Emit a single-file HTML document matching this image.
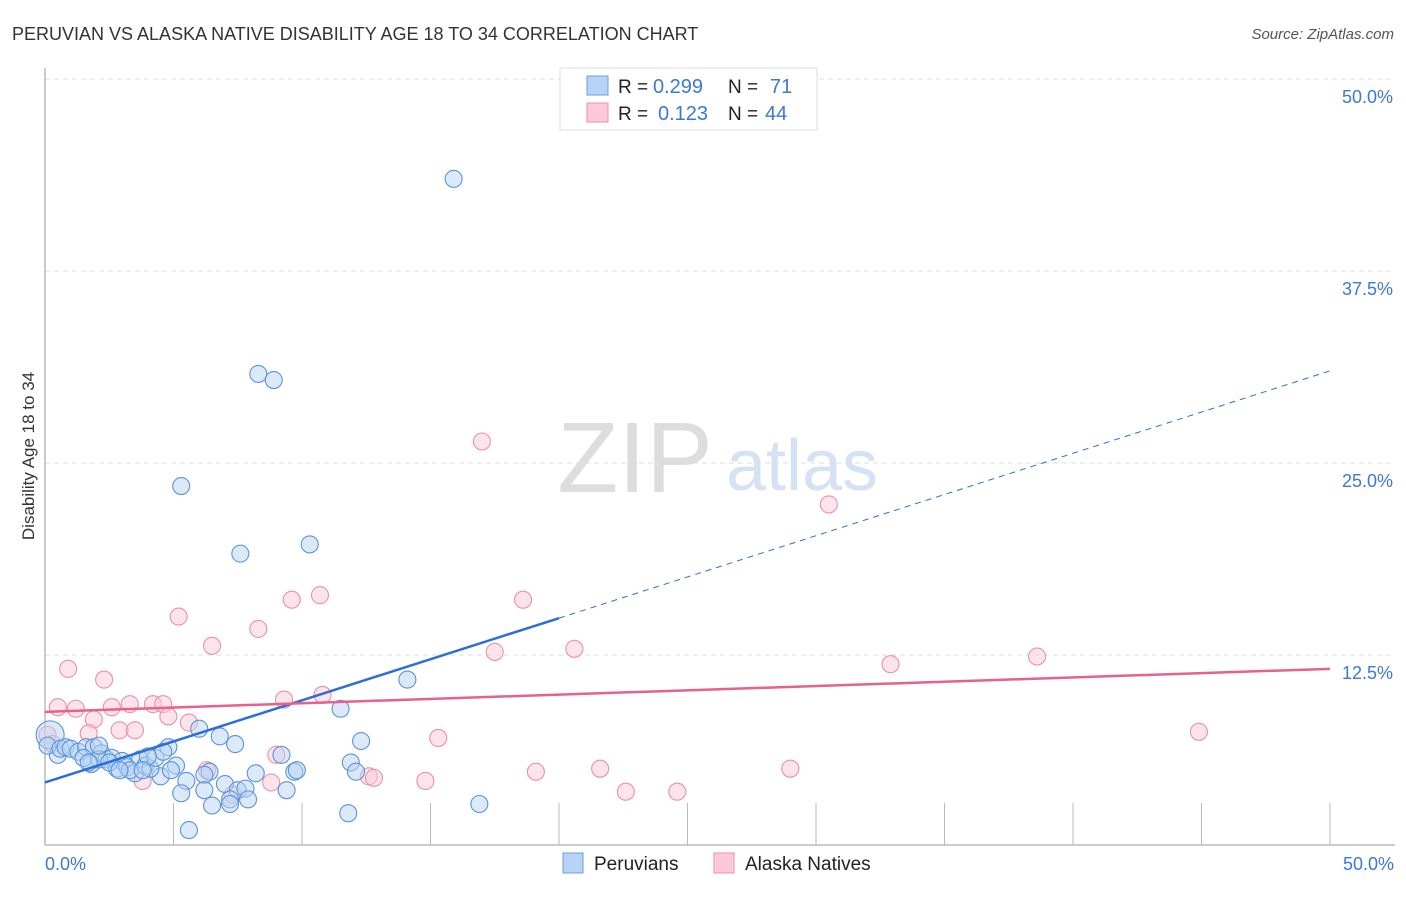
<!DOCTYPE html>
<html><head><meta charset="utf-8"><style>
body{margin:0;background:#fff;font-family:"Liberation Sans",sans-serif;}
svg text{font-family:"Liberation Sans",sans-serif;}
</style></head><body>
<svg id="chart" width="1406" height="892">
<text x="12" y="40" font-size="18" fill="#333">PERUVIAN VS ALASKA NATIVE DISABILITY AGE 18 TO 34 CORRELATION CHART</text>
<text x="1394" y="39" font-size="15" fill="#555" font-style="italic" text-anchor="end">Source: ZipAtlas.com</text>
<text x="34" y="456" font-size="17" fill="#333" text-anchor="middle" transform="rotate(-90 34 456)">Disability Age 18 to 34</text>
<text x="635" y="492" font-size="100" fill="#ddd" font-family="Liberation Serif" text-anchor="middle">ZIP</text>
<text x="802" y="490" font-size="72" fill="#d4e2f4" text-anchor="middle">atlas</text>
<g id="grid"></g><g id="axes"></g><g id="pts"></g><g id="trend"></g>
<g>
<rect x="560" y="68" width="257" height="62" fill="#fff" stroke="#ddd"/>
<rect x="587" y="76" width="21" height="19" fill="#b8d4f4" stroke="#6a9fe0"/>
<rect x="587" y="103" width="21" height="19" fill="#fbc9d7" stroke="#ec8fab"/>
<text x="618" y="93" font-size="19" fill="#222">R =</text>
<text x="653" y="93" font-size="20" fill="#3b78d8">0.299</text>
<text x="728" y="93" font-size="19" fill="#222">N =</text>
<text x="770" y="93" font-size="20" fill="#3b78d8">71</text>
<text x="618" y="120" font-size="19" fill="#222">R =</text>
<text x="658" y="120" font-size="20" fill="#3b78d8">0.123</text>
<text x="728" y="120" font-size="19" fill="#222">N =</text>
<text x="765" y="120" font-size="20" fill="#3b78d8">44</text>
</g>
<g>
<rect x="563" y="853" width="20" height="20" fill="#b8d4f4" stroke="#6a9fe0"/>
<text x="594" y="870" font-size="19" fill="#222">Peruvians</text>
<rect x="714" y="853" width="20" height="20" fill="#fbc9d7" stroke="#ec8fab"/>
<text x="745" y="870" font-size="19" fill="#222">Alaska Natives</text>
</g>
</svg>
<script>
const xTicks=["0.0%","50.0%"];
const yTicks=[12.5,25,37.5,50];
const yTickLabels=["12.5%","25.0%","37.5%","50.0%"];
const peruX=[15.9,8.3,8.9,5.3,7.6,10.3,14.1,11.5,6.0,7.4,6.8,12.3,9.2,4.8,9.7,11.9,12.1,8.2,6.4,5.1,6.2,5.5,4.5,7.0,7.5,6.2,5.3,7.8,7.2,7.9,9.4,6.5,7.2,11.8,16.9,5.6,0.2,0.5,0.1,0.6,0.8,1.0,1.3,1.6,1.8,1.9,2.2,2.4,2.6,2.8,3.0,3.2,3.5,3.7,3.9,4.1,4.3,4.6,3.3,1.5,2.1,2.5,2.1,9.8,1.7,4.0,4.9,2.9,3.8];
const peruY=[43.5,30.8,30.4,23.5,19.1,19.7,10.9,9.0,7.7,6.7,7.2,6.9,6.0,6.5,4.9,5.5,4.9,4.8,4.9,5.3,4.7,4.3,4.6,4.1,3.7,3.7,3.5,3.8,3.1,3.1,3.7,2.7,2.8,2.2,2.8,1.1,7.3,6.0,6.6,6.4,6.5,6.4,6.2,6.5,5.4,6.5,6.1,5.7,5.8,5.1,5.6,5.2,4.8,5.7,5.3,5.1,5.8,6.2,5.0,5.8,5.7,5.5,6.6,5.0,5.5,5.9,5.0,5.0,5.0];
const alaskaX=[17.0,30.5,10.7,9.6,18.6,5.2,8.3,6.5,20.6,17.5,32.9,38.6,0.9,2.3,44.9,10.8,9.3,0.5,1.2,2.6,3.3,4.2,4.6,4.8,1.9,5.6,2.9,3.5,15.3,1.7,9.0,6.3,12.6,12.8,14.8,19.1,21.6,29.0,3.8,8.8,22.6,24.6,7.3,0.1,0.3];
const alaskaY=[26.4,22.3,16.4,16.1,16.1,15.0,14.2,13.1,12.9,12.7,11.9,12.4,11.6,10.9,7.5,9.9,9.6,9.1,9.0,9.1,9.3,9.3,9.3,8.5,8.3,8.1,7.6,7.6,7.1,7.4,6.0,5.0,4.6,4.5,4.3,4.9,5.1,5.1,4.3,4.2,3.6,3.6,3.4,7.3,6.7];
const peruTrend=[4.2,14.9,31.0], peruTrendX=[0,20,50];
const alaskaTrend=[8.8,11.6];
const X0=45,X1=1330,YB=847,PY=15.36;
const sx=v=>X0+(X1-X0)*v/50, sy=v=>YB-v*PY;
const NS='http://www.w3.org/2000/svg';
function mk(tag,at,parent){const e=document.createElementNS(NS,tag);for(const k in at)e.setAttribute(k,at[k]);document.getElementById(parent).appendChild(e);return e;}
yTicks.forEach((t,i)=>{
 const g=mk('line',{x1:X0,x2:1395,y1:sy(t),y2:sy(t),stroke:'#ddd','stroke-dasharray':'5,4'},'grid');
 
 
 const l=mk('text',{x:1393,y:sy(t)+24,'font-size':18,fill:'#3b78d8','text-anchor':'end'},'grid');
 l.textContent=yTickLabels[i];
 
 
});
let a=mk('line',{x1:X0,x2:X0,y1:68,y2:845,stroke:'#bbb','stroke-width':1.5},'axes');


a=mk('line',{x1:X0,x2:1395,y1:845,y2:845,stroke:'#bbb','stroke-width':1.5},'axes');


for(let i=1;i<=10;i++){const t=mk('line',{x1:sx(i*5),x2:sx(i*5),y1:803,y2:845,stroke:'#bbb'},'axes');
 
 }
xTicks.forEach((s,i)=>{const t=mk('text',{x:i?1394:45,y:870,'font-size':18,fill:'#3b78d8','text-anchor':i?'end':'start'},'axes');t.textContent=s;
 
 });
function pts(xs,ys,fill,stroke,name){xs.forEach((x,i)=>{const c=mk('circle',{cx:sx(x),cy:sy(ys[i]),r:i===36&&name==='peruvian-point'?14:8.5,fill:fill,'fill-opacity':0.5,stroke:stroke,'stroke-width':1.1},'pts');
 
 });}
pts(alaskaX,alaskaY,'#fbc9d7','#ec8fab','alaska-native-point');
pts(peruX,peruY,'#b8d4f4','#5b93dd','peruvian-point');
let l=mk('line',{x1:sx(0),y1:sy(peruTrend[0]),x2:sx(peruTrendX[1]),y2:sy(peruTrend[1]),stroke:'#2a6fd6','stroke-width':2.5},'trend');


l=mk('line',{x1:sx(peruTrendX[1]),y1:sy(peruTrend[1]),x2:sx(50),y2:sy(peruTrend[2]),stroke:'#2a6fd6','stroke-width':1,'stroke-dasharray':'6,5'},'trend');


l=mk('line',{x1:sx(0),y1:sy(alaskaTrend[0]),x2:sx(50),y2:sy(alaskaTrend[1]),stroke:'#e8608c','stroke-width':2.5},'trend');


</script>
</body></html>
